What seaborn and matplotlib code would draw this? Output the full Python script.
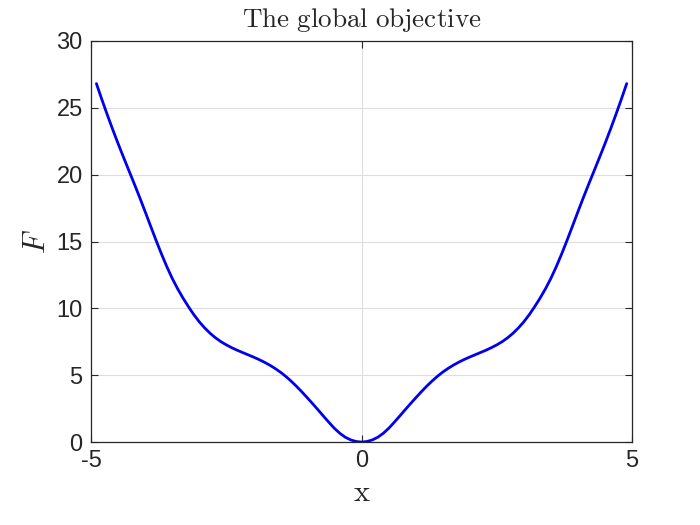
import numpy as np
import pandas as pd
import matplotlib
matplotlib.use("Agg")
import matplotlib.pyplot as plt
import seaborn as sns

# values (curve is symmetric about x = 0)
x_half = [0.0, 0.1, 0.2, 0.3, 0.4, 0.5, 0.6, 0.7, 0.8, 0.9,
          1.0, 1.1, 1.2, 1.3, 1.4, 1.5, 1.6, 1.7, 1.8, 1.9,
          2.0, 2.1, 2.2, 2.3, 2.4, 2.5, 2.6, 2.7, 2.8, 2.9,
          3.0, 3.1, 3.2, 3.3, 3.4, 3.5, 3.6, 3.7, 3.8, 3.9,
          4.0, 4.1, 4.2, 4.3, 4.4, 4.5, 4.6, 4.7, 4.8, 4.9]
f_half = [0.0, 0.04, 0.16, 0.36, 0.65, 1.02, 1.46, 1.92, 2.39, 2.85,
          3.30, 3.74, 4.16, 4.55, 4.91, 5.23, 5.51, 5.76, 5.98, 6.18,
          6.36, 6.53, 6.70, 6.87, 7.06, 7.27, 7.51, 7.80, 8.14, 8.54,
          9.00, 9.53, 10.13, 10.77, 11.47, 12.25, 13.13, 14.09, 15.11, 16.17,
          17.24, 18.29, 19.31, 20.31, 21.31, 22.33, 23.39, 24.49, 25.63, 26.81]

x_vals = [-v for v in x_half[::-1]] + x_half[1:]
f_vals = f_half[::-1] + f_half[1:]

x_ticks = [-5, 0, 5]
y_ticks = [0, 5, 10, 15, 20, 25, 30]

df = pd.DataFrame({"x": x_vals, "F": f_vals})

sns.set_style("ticks")
plt.rcParams["font.family"] = ["Liberation Sans", "DejaVu Sans"]
plt.rcParams["mathtext.fontset"] = "cm"
plt.rcParams["axes.unicode_minus"] = False

fig = plt.figure(figsize=(7, 5.25), dpi=100)
ax = fig.add_axes([0.13, 0.158, 0.773, 0.764])

sns.lineplot(data=df, x="x", y="F", ax=ax, color="#0000ee", linewidth=2.0,
             sort=False, estimator=None)

ax.set_xlim(-5, 5)
ax.set_ylim(0, 30)
ax.set_xticks(x_ticks)
ax.set_yticks(y_ticks)
ax.grid(True, color="#dedede", linewidth=0.8)
ax.set_axisbelow(True)

for side in ["top", "right", "left", "bottom"]:
    ax.spines[side].set_visible(True)
    ax.spines[side].set_color("#262626")
    ax.spines[side].set_linewidth(0.9)

ax.tick_params(axis="both", direction="in", length=5, width=0.8,
               top=True, right=True, labelsize=17, colors="#262626",
               labelcolor="#262626", pad=6)

ax.set_title(r"$\mathrm{The\ global\ objective}$", fontsize=19.5, pad=10)
ax.set_xlabel(r"$\mathrm{x}$", fontsize=22, labelpad=4)
ax.set_ylabel(r"$F$", fontsize=22, labelpad=3)

fig.savefig("out.png", dpi=100)
plt.close(fig)
